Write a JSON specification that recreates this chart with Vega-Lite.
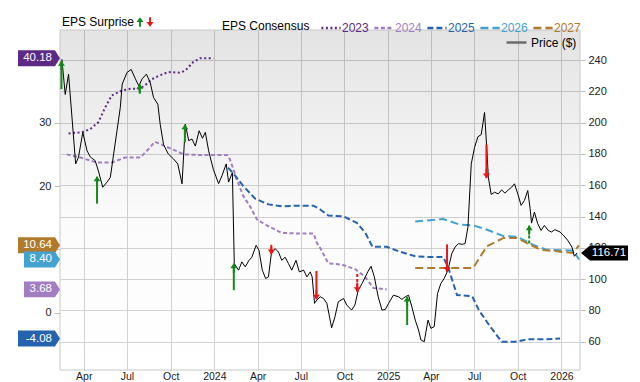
{
  "$schema": "https://vega.github.io/schema/vega-lite/v6.json",
  "width": 520,
  "height": 340,
  "autosize": {"type": "none"},
  "padding": {"left": 60, "top": 30, "right": 60, "bottom": 12},
  "background": "#ffffff",
  "config": {
    "font": "Liberation Sans",
    "view": {"stroke": null},
    "axis": {"title": null, "labelFontSize": 11, "labelColor": "#222222", "domain": false, "tickColor": "#bdbdbd", "gridColor": "#d2d2d2"},
    "axisX": {"tickSize": 0, "labelPadding": 1, "labelFontSize": 10.5, "grid": true, "labelFlush": false, "labelOverlap": false,
      "labelExpr": "utcFormat(datum.value, '%m') == '01' ? utcFormat(datum.value, '%Y') : utcFormat(datum.value, '%b')"}
  },
  "datasets": {
    "frame": [{"date": "2023-02-10", "date2": "2026-02-09", "top": 259.2, "bottom": 41.9}],
    "price": [
      {"date": "2023-02-14", "price": 240.5}, {"date": "2023-02-21", "price": 218}, {"date": "2023-02-28", "price": 231},
      {"date": "2023-03-15", "price": 173.6}, {"date": "2023-03-21", "price": 178}, {"date": "2023-03-30", "price": 193.8},
      {"date": "2023-04-08", "price": 182}, {"date": "2023-04-15", "price": 178}, {"date": "2023-04-25", "price": 175.7},
      {"date": "2023-05-02", "price": 169}, {"date": "2023-05-11", "price": 158.7}, {"date": "2023-05-20", "price": 162},
      {"date": "2023-05-27", "price": 165}, {"date": "2023-06-03", "price": 180}, {"date": "2023-06-10", "price": 194.8},
      {"date": "2023-06-17", "price": 209.7}, {"date": "2023-06-21", "price": 224.6}, {"date": "2023-07-01", "price": 232},
      {"date": "2023-07-10", "price": 234}, {"date": "2023-07-19", "price": 227.8}, {"date": "2023-07-26", "price": 223.5},
      {"date": "2023-08-02", "price": 228}, {"date": "2023-08-11", "price": 231}, {"date": "2023-08-19", "price": 225.6},
      {"date": "2023-08-26", "price": 216}, {"date": "2023-09-04", "price": 211.8}, {"date": "2023-09-09", "price": 199},
      {"date": "2023-09-16", "price": 186}, {"date": "2023-09-26", "price": 180}, {"date": "2023-10-07", "price": 176.8},
      {"date": "2023-10-16", "price": 173.6}, {"date": "2023-10-25", "price": 160.9}, {"date": "2023-11-01", "price": 199},
      {"date": "2023-11-08", "price": 188.5}, {"date": "2023-11-15", "price": 189.5}, {"date": "2023-11-22", "price": 185},
      {"date": "2023-11-30", "price": 194.8}, {"date": "2023-12-07", "price": 190}, {"date": "2023-12-13", "price": 193.8},
      {"date": "2023-12-20", "price": 182}, {"date": "2023-12-30", "price": 170}, {"date": "2024-01-10", "price": 161},
      {"date": "2024-01-17", "price": 166}, {"date": "2024-01-26", "price": 173.6}, {"date": "2024-01-31", "price": 162},
      {"date": "2024-02-08", "price": 168}, {"date": "2024-02-12", "price": 109.9}, {"date": "2024-02-21", "price": 105.7},
      {"date": "2024-02-28", "price": 111}, {"date": "2024-03-06", "price": 107.8}, {"date": "2024-03-14", "price": 112},
      {"date": "2024-03-20", "price": 114}, {"date": "2024-03-29", "price": 121.6}, {"date": "2024-04-04", "price": 118.4},
      {"date": "2024-04-11", "price": 105.7}, {"date": "2024-04-18", "price": 100.4}, {"date": "2024-04-24", "price": 101.4},
      {"date": "2024-04-30", "price": 116.3}, {"date": "2024-05-08", "price": 119.5}, {"date": "2024-05-15", "price": 117.3},
      {"date": "2024-05-22", "price": 112}, {"date": "2024-05-29", "price": 114}, {"date": "2024-06-05", "price": 110},
      {"date": "2024-06-12", "price": 105.7}, {"date": "2024-06-21", "price": 112}, {"date": "2024-06-28", "price": 104.6},
      {"date": "2024-07-07", "price": 105.7}, {"date": "2024-07-14", "price": 101.4}, {"date": "2024-07-21", "price": 104.6},
      {"date": "2024-07-25", "price": 101.4}, {"date": "2024-07-30", "price": 84.5}, {"date": "2024-08-04", "price": 86.6},
      {"date": "2024-08-11", "price": 88.7}, {"date": "2024-08-18", "price": 87.6}, {"date": "2024-08-25", "price": 84.5},
      {"date": "2024-09-04", "price": 68.9}, {"date": "2024-09-11", "price": 75.9}, {"date": "2024-09-18", "price": 85.5},
      {"date": "2024-09-29", "price": 87.6}, {"date": "2024-10-06", "price": 83.4}, {"date": "2024-10-16", "price": 80.2},
      {"date": "2024-10-23", "price": 83.4}, {"date": "2024-10-30", "price": 92.9}, {"date": "2024-11-07", "price": 97.2},
      {"date": "2024-11-14", "price": 101.4}, {"date": "2024-11-19", "price": 104.6}, {"date": "2024-11-26", "price": 108.2},
      {"date": "2024-12-03", "price": 101.4}, {"date": "2024-12-11", "price": 88.7}, {"date": "2024-12-19", "price": 80.2},
      {"date": "2024-12-26", "price": 80.6}, {"date": "2025-01-02", "price": 84.5}, {"date": "2025-01-12", "price": 89.7},
      {"date": "2025-01-23", "price": 88.7}, {"date": "2025-01-30", "price": 87}, {"date": "2025-02-06", "price": 88.7},
      {"date": "2025-02-13", "price": 89.7}, {"date": "2025-02-20", "price": 82.3}, {"date": "2025-02-27", "price": 73.8},
      {"date": "2025-03-06", "price": 67.5}, {"date": "2025-03-11", "price": 61.1}, {"date": "2025-03-18", "price": 60},
      {"date": "2025-03-26", "price": 73.8}, {"date": "2025-04-01", "price": 68.5}, {"date": "2025-04-08", "price": 69.6},
      {"date": "2025-04-15", "price": 90.8}, {"date": "2025-04-22", "price": 97.2}, {"date": "2025-04-29", "price": 100.4},
      {"date": "2025-05-07", "price": 105.7}, {"date": "2025-05-15", "price": 116.3}, {"date": "2025-05-22", "price": 120.5},
      {"date": "2025-05-29", "price": 122.7}, {"date": "2025-06-06", "price": 122.2}, {"date": "2025-06-12", "price": 122.7},
      {"date": "2025-06-18", "price": 133.2}, {"date": "2025-06-25", "price": 173.6}, {"date": "2025-07-02", "price": 184.2},
      {"date": "2025-07-09", "price": 191}, {"date": "2025-07-16", "price": 192.3}, {"date": "2025-07-23", "price": 206.5},
      {"date": "2025-07-28", "price": 182}, {"date": "2025-07-31", "price": 165.1}, {"date": "2025-08-06", "price": 154.1},
      {"date": "2025-08-13", "price": 155.5}, {"date": "2025-08-21", "price": 154.5}, {"date": "2025-08-28", "price": 157},
      {"date": "2025-09-04", "price": 154.9}, {"date": "2025-09-11", "price": 157}, {"date": "2025-09-18", "price": 158.7},
      {"date": "2025-09-24", "price": 160.9}, {"date": "2025-10-01", "price": 154.5}, {"date": "2025-10-08", "price": 147.1},
      {"date": "2025-10-15", "price": 150.3}, {"date": "2025-10-22", "price": 156.6}, {"date": "2025-10-27", "price": 145},
      {"date": "2025-10-30", "price": 135.8}, {"date": "2025-11-05", "price": 142.8}, {"date": "2025-11-12", "price": 135.4},
      {"date": "2025-11-19", "price": 131.1}, {"date": "2025-11-26", "price": 134.3}, {"date": "2025-12-04", "price": 131.1},
      {"date": "2025-12-11", "price": 130.1}, {"date": "2025-12-18", "price": 131.6}, {"date": "2025-12-29", "price": 130.1},
      {"date": "2026-01-05", "price": 128}, {"date": "2026-01-14", "price": 124.8}, {"date": "2026-01-23", "price": 120.5},
      {"date": "2026-01-28", "price": 114.6}, {"date": "2026-02-03", "price": 116.71}
    ],
    "cons": [
      {"year": "2023", "date": "2023-02-28", "eps": 28.3}, {"year": "2023", "date": "2023-03-28", "eps": 28.5},
      {"year": "2023", "date": "2023-04-15", "eps": 29.0}, {"year": "2023", "date": "2023-05-02", "eps": 30.1},
      {"year": "2023", "date": "2023-05-16", "eps": 32.4}, {"year": "2023", "date": "2023-05-30", "eps": 34.3},
      {"year": "2023", "date": "2023-06-21", "eps": 35.1}, {"year": "2023", "date": "2023-07-08", "eps": 35.35},
      {"year": "2023", "date": "2023-07-26", "eps": 35.35}, {"year": "2023", "date": "2023-08-08", "eps": 35.9},
      {"year": "2023", "date": "2023-08-23", "eps": 36.9}, {"year": "2023", "date": "2023-09-09", "eps": 37.5},
      {"year": "2023", "date": "2023-09-26", "eps": 38.0}, {"year": "2023", "date": "2023-10-21", "eps": 37.9},
      {"year": "2023", "date": "2023-11-01", "eps": 38.25}, {"year": "2023", "date": "2023-11-18", "eps": 39.6},
      {"year": "2023", "date": "2023-12-02", "eps": 40.18}, {"year": "2023", "date": "2023-12-30", "eps": 40.18},
      {"year": "2024", "date": "2023-02-24", "eps": 25.0}, {"year": "2024", "date": "2023-03-25", "eps": 24.5},
      {"year": "2024", "date": "2023-04-29", "eps": 23.7}, {"year": "2024", "date": "2023-05-30", "eps": 23.7},
      {"year": "2024", "date": "2023-06-27", "eps": 24.5}, {"year": "2024", "date": "2023-07-29", "eps": 24.5},
      {"year": "2024", "date": "2023-08-15", "eps": 25.8}, {"year": "2024", "date": "2023-08-29", "eps": 27.0},
      {"year": "2024", "date": "2023-09-19", "eps": 26.3}, {"year": "2024", "date": "2023-10-11", "eps": 25.6},
      {"year": "2024", "date": "2023-10-28", "eps": 25.0}, {"year": "2024", "date": "2023-12-02", "eps": 24.9},
      {"year": "2024", "date": "2024-01-28", "eps": 24.9}, {"year": "2024", "date": "2024-02-03", "eps": 24.2},
      {"year": "2024", "date": "2024-02-17", "eps": 21.1}, {"year": "2024", "date": "2024-03-02", "eps": 18.4},
      {"year": "2024", "date": "2024-03-16", "eps": 16.8}, {"year": "2024", "date": "2024-03-31", "eps": 14.7},
      {"year": "2024", "date": "2024-04-24", "eps": 13.65}, {"year": "2024", "date": "2024-05-22", "eps": 12.6},
      {"year": "2024", "date": "2024-06-26", "eps": 12.5}, {"year": "2024", "date": "2024-07-28", "eps": 12.5},
      {"year": "2024", "date": "2024-08-04", "eps": 11.0}, {"year": "2024", "date": "2024-08-11", "eps": 10.2},
      {"year": "2024", "date": "2024-08-28", "eps": 7.8}, {"year": "2024", "date": "2024-09-25", "eps": 7.6},
      {"year": "2024", "date": "2024-10-23", "eps": 6.9}, {"year": "2024", "date": "2024-11-13", "eps": 5.7},
      {"year": "2024", "date": "2024-12-01", "eps": 3.9}, {"year": "2024", "date": "2024-12-29", "eps": 3.68},
      {"year": "2025", "date": "2024-01-30", "eps": 22.9}, {"year": "2025", "date": "2024-02-14", "eps": 21.6},
      {"year": "2025", "date": "2024-03-02", "eps": 20.0}, {"year": "2025", "date": "2024-03-27", "eps": 18.0},
      {"year": "2025", "date": "2024-04-24", "eps": 17.1}, {"year": "2025", "date": "2024-05-22", "eps": 16.8},
      {"year": "2025", "date": "2024-06-19", "eps": 16.9}, {"year": "2025", "date": "2024-07-28", "eps": 16.9},
      {"year": "2025", "date": "2024-08-11", "eps": 16.3}, {"year": "2025", "date": "2024-08-28", "eps": 15.35},
      {"year": "2025", "date": "2024-09-29", "eps": 15.2}, {"year": "2025", "date": "2024-10-27", "eps": 14.2},
      {"year": "2025", "date": "2024-11-14", "eps": 12.6}, {"year": "2025", "date": "2024-11-29", "eps": 10.4},
      {"year": "2025", "date": "2024-12-29", "eps": 10.4}, {"year": "2025", "date": "2025-01-23", "eps": 9.7},
      {"year": "2025", "date": "2025-02-27", "eps": 8.9}, {"year": "2025", "date": "2025-03-27", "eps": 8.8},
      {"year": "2025", "date": "2025-04-27", "eps": 8.8}, {"year": "2025", "date": "2025-05-08", "eps": 7.0},
      {"year": "2025", "date": "2025-05-26", "eps": 2.8}, {"year": "2025", "date": "2025-06-27", "eps": 2.6},
      {"year": "2025", "date": "2025-07-11", "eps": 0.4}, {"year": "2025", "date": "2025-08-04", "eps": -2.2},
      {"year": "2025", "date": "2025-08-28", "eps": -4.6}, {"year": "2025", "date": "2025-09-25", "eps": -4.6},
      {"year": "2025", "date": "2025-10-23", "eps": -4.2}, {"year": "2025", "date": "2025-11-27", "eps": -4.2},
      {"year": "2025", "date": "2025-12-29", "eps": -4.08},
      {"year": "2026", "date": "2025-02-27", "eps": 14.4}, {"year": "2026", "date": "2025-04-27", "eps": 14.8},
      {"year": "2026", "date": "2025-06-01", "eps": 13.9}, {"year": "2026", "date": "2025-06-29", "eps": 13.8},
      {"year": "2026", "date": "2025-07-28", "eps": 13.1}, {"year": "2026", "date": "2025-09-01", "eps": 12.1},
      {"year": "2026", "date": "2025-09-29", "eps": 12.0}, {"year": "2026", "date": "2025-11-03", "eps": 10.7},
      {"year": "2026", "date": "2025-12-01", "eps": 9.95}, {"year": "2026", "date": "2026-01-26", "eps": 9.8},
      {"year": "2026", "date": "2026-02-07", "eps": 8.40},
      {"year": "2027", "date": "2025-02-27", "eps": 7.05}, {"year": "2027", "date": "2025-06-29", "eps": 7.05},
      {"year": "2027", "date": "2025-07-28", "eps": 10.5}, {"year": "2027", "date": "2025-09-01", "eps": 11.8},
      {"year": "2027", "date": "2025-09-29", "eps": 11.8}, {"year": "2027", "date": "2025-11-17", "eps": 9.95},
      {"year": "2027", "date": "2026-01-25", "eps": 9.43}, {"year": "2027", "date": "2026-02-07", "eps": 10.64}
    ],
    "surp": [
      {"date": "2023-02-13", "head": 239.4, "tail": 221.4, "dir": "up", "basis": "final"},
      {"date": "2023-04-29", "head": 165.5, "tail": 148.2, "dir": "up", "basis": "final"},
      {"date": "2023-07-28", "head": 224.6, "tail": 218.6, "dir": "up", "basis": "final"},
      {"date": "2023-10-31", "head": 198.7, "tail": 187.4, "dir": "up", "basis": "final"},
      {"date": "2024-02-11", "head": 109.9, "tail": 92.9, "dir": "up", "basis": "final"},
      {"date": "2024-04-30", "head": 115.9, "tail": 120.5, "dir": "down", "basis": "final"},
      {"date": "2024-08-03", "head": 87.0, "tail": 105.2, "dir": "down", "basis": "final"},
      {"date": "2024-10-28", "head": 91.8, "tail": 104.6, "dir": "down", "basis": "estimate"},
      {"date": "2025-02-10", "head": 88.7, "tail": 70.6, "dir": "up", "basis": "final"},
      {"date": "2025-05-05", "head": 104.6, "tail": 122.2, "dir": "down", "basis": "final"},
      {"date": "2025-07-27", "head": 164.5, "tail": 186.0, "dir": "down", "basis": "final"},
      {"date": "2025-10-25", "head": 134.3, "tail": 122.7, "dir": "up", "basis": "estimate"}
    ]
  },
  "encoding": {
    "x": {
      "field": "date", "type": "temporal",
      "scale": {"type": "utc", "domain": [{"year": 2023, "month": 2, "date": 10, "utc": true}, {"year": 2026, "month": 2, "date": 9, "utc": true}]},
      "axis": {
        "values": [
          {"year": 2023, "month": 4, "date": 1, "utc": true}, {"year": 2023, "month": 7, "date": 1, "utc": true},
          {"year": 2023, "month": 10, "date": 1, "utc": true}, {"year": 2024, "month": 1, "date": 1, "utc": true},
          {"year": 2024, "month": 4, "date": 1, "utc": true}, {"year": 2024, "month": 7, "date": 1, "utc": true},
          {"year": 2024, "month": 10, "date": 1, "utc": true}, {"year": 2025, "month": 1, "date": 1, "utc": true},
          {"year": 2025, "month": 4, "date": 1, "utc": true}, {"year": 2025, "month": 7, "date": 1, "utc": true},
          {"year": 2025, "month": 10, "date": 1, "utc": true}, {"year": 2026, "month": 1, "date": 1, "utc": true}
        ]
      }
    }
  },
  "layer": [
    {
      "data": {"name": "frame"},
      "mark": {"type": "rect", "stroke": "#c8c8c8", "strokeWidth": 1,
        "fill": {"gradient": "linear", "x1": 0, "y1": 0, "x2": 0, "y2": 1,
          "stops": [{"offset": 0, "color": "rgba(0,0,0,0.11)"}, {"offset": 0.55, "color": "rgba(0,0,0,0.015)"}, {"offset": 1, "color": "rgba(0,0,0,0)"}]}},
      "encoding": {
        "x2": {"field": "date2"},
        "y": {"field": "top", "type": "quantitative", "scale": {"domain": [41.9, 259.2], "nice": false, "zero": false}, "axis": null},
        "y2": {"field": "bottom"}
      }
    },
    {
      "data": {"name": "cons"},
      "mark": {"type": "line", "strokeWidth": 2},
      "encoding": {
        "y": {
          "field": "eps", "type": "quantitative",
          "scale": {"domain": [-9.05, 44.64], "nice": false, "zero": false},
          "axis": {"orient": "left", "values": [0, 10, 20, 30, 40], "grid": false, "tickSize": 6, "labelPadding": 3,
            "labelExpr": "datum.value == 10 || datum.value == 40 ? '' : datum.label"}
        },
        "color": {
          "field": "year", "type": "nominal",
          "scale": {"domain": ["2023", "2024", "2025", "2026", "2027"], "range": ["#5c2a85", "#a37dc2", "#2563ae", "#43a2d0", "#b07a2c"]},
          "legend": {
            "orient": "none", "legendX": 162, "legendY": -13, "direction": "horizontal",
            "title": "EPS Consensus", "titleOrient": "left", "titleFontSize": 12, "titleFontWeight": "normal", "titleColor": "#000000",
            "titlePadding": 10, "labelFontSize": 12, "labelOffset": 0, "columnPadding": 0,
            "symbolType": "stroke", "symbolSize": 370, "symbolStrokeWidth": 2.5,
            "encode": {"labels": {"update": {"fill": {"scale": "color", "field": "value"}}}}
          }
        },
        "strokeDash": {
          "field": "year", "type": "nominal",
          "scale": {"domain": ["2023", "2024", "2025", "2026", "2027"], "range": [[2, 2.5], [4, 2.5], [6, 3], [8, 4], [8, 4]]},
          "legend": {
            "orient": "none", "legendX": 162, "legendY": -13, "direction": "horizontal",
            "title": "EPS Consensus", "titleOrient": "left", "titleFontSize": 12, "titleFontWeight": "normal", "titleColor": "#000000",
            "titlePadding": 10, "labelFontSize": 12, "labelOffset": 0, "columnPadding": 0,
            "symbolType": "stroke", "symbolSize": 370, "symbolStrokeWidth": 2.5,
            "encode": {"labels": {"update": {"fill": {"scale": "color", "field": "value"}}}}
          }
        }
      }
    },
    {
      "data": {"name": "price"},
      "mark": {"type": "line", "color": "#000000", "strokeWidth": 1},
      "encoding": {
        "y": {
          "field": "price", "type": "quantitative",
          "scale": {"domain": [41.9, 259.2], "nice": false, "zero": false},
          "axis": {"orient": "right", "values": [60, 80, 100, 120, 140, 160, 180, 200, 220, 240], "grid": true, "tickSize": 5, "labelPadding": 3}
        },
        "opacity": {
          "datum": "Price ($)", "type": "nominal", "scale": {"range": [1, 1]},
          "legend": {
            "orient": "none", "legendX": 445, "legendY": 1, "title": null, "labelFontSize": 12, "labelOffset": 3, "labelColor": "#000000",
            "symbolType": "stroke", "symbolSize": 400, "symbolStrokeWidth": 2.5, "symbolStrokeColor": "#6b6b6b",
            "encode": {"symbols": {"update": {"stroke": {"value": "#6b6b6b"}, "strokeWidth": {"value": 2.5}}}}
          }
        }
      }
    },
    {
      "data": {"name": "surp"},
      "transform": [{"filter": "datum.dir == 'up'"}],
      "mark": {"type": "point", "filled": true, "opacity": 1, "strokeWidth": 0, "size": 88, "yOffset": 4.7},
      "encoding": {
        "y": {"field": "head", "type": "quantitative", "scale": {"domain": [41.9, 259.2], "nice": false, "zero": false}, "axis": null},
        "fill": {
          "field": "dir", "type": "nominal", "scale": {"domain": ["up", "down"], "range": ["#12891a", "#ee1414"]},
          "legend": {"orient": "none", "legendX": 2, "legendY": -13, "direction": "horizontal", "title": "EPS Surprise", "titleOrient": "left",
            "titleFontSize": 12, "titleFontWeight": "normal", "titleColor": "#000000", "titlePadding": 0, "labelExpr": "''", "labelOffset": 0,
            "columnPadding": -3, "symbolSize": 88, "symbolStrokeWidth": 0}
        },
        "shape": {
          "field": "dir", "type": "nominal",
          "scale": {"domain": ["up", "down"], "range": ["M0,-1L0.75,0L0.2,0L0.2,1L-0.2,1L-0.2,0L-0.75,0Z", "M0,1L0.75,0L0.2,0L0.2,-1L-0.2,-1L-0.2,0L-0.75,0Z"]},
          "legend": {"orient": "none", "legendX": 2, "legendY": -13, "direction": "horizontal", "title": "EPS Surprise", "titleOrient": "left",
            "titleFontSize": 12, "titleFontWeight": "normal", "titleColor": "#000000", "titlePadding": 0, "labelExpr": "''", "labelOffset": 0,
            "columnPadding": -3, "symbolSize": 88, "symbolStrokeWidth": 0}
        }
      }
    },
    {
      "data": {"name": "surp"},
      "transform": [{"filter": "datum.dir == 'down'"}],
      "mark": {"type": "point", "filled": true, "opacity": 1, "strokeWidth": 0, "size": 88, "yOffset": -4.7},
      "encoding": {
        "y": {"field": "head", "type": "quantitative", "scale": {"domain": [41.9, 259.2], "nice": false, "zero": false}, "axis": null},
        "fill": {
          "field": "dir", "type": "nominal",
          "legend": {"orient": "none", "legendX": 2, "legendY": -13, "direction": "horizontal", "title": "EPS Surprise", "titleOrient": "left",
            "titleFontSize": 12, "titleFontWeight": "normal", "titleColor": "#000000", "titlePadding": 0, "labelExpr": "''", "labelOffset": 0,
            "columnPadding": -3, "symbolSize": 88, "symbolStrokeWidth": 0}
        },
        "shape": {
          "field": "dir", "type": "nominal",
          "legend": {"orient": "none", "legendX": 2, "legendY": -13, "direction": "horizontal", "title": "EPS Surprise", "titleOrient": "left",
            "titleFontSize": 12, "titleFontWeight": "normal", "titleColor": "#000000", "titlePadding": 0, "labelExpr": "''", "labelOffset": 0,
            "columnPadding": -3, "symbolSize": 88, "symbolStrokeWidth": 0}
        }
      }
    },
    {
      "data": {"name": "surp"},
      "transform": [{"filter": "datum.basis == 'final'"}],
      "mark": {"type": "rule", "strokeWidth": 2},
      "encoding": {
        "y": {"field": "head", "type": "quantitative", "scale": {"domain": [41.9, 259.2], "nice": false, "zero": false}, "axis": null},
        "y2": {"field": "tail"},
        "stroke": {"condition": {"test": "datum.dir == 'up'", "value": "#12891a"}, "value": "#ee1414"}
      }
    },
    {
      "data": {"name": "surp"},
      "transform": [{"filter": "datum.basis == 'estimate'"}],
      "mark": {"type": "rule", "strokeWidth": 2, "strokeDash": [3, 2]},
      "encoding": {
        "y": {"field": "head", "type": "quantitative", "scale": {"domain": [41.9, 259.2], "nice": false, "zero": false}, "axis": null},
        "y2": {"field": "tail"},
        "stroke": {"condition": {"test": "datum.dir == 'up'", "value": "#12891a"}, "value": "#ee1414"}
      }
    },
    {
      "data": {"name": "cons"},
      "transform": [
        {"joinaggregate": [{"op": "max", "field": "date", "as": "last"}], "groupby": ["year"]},
        {"filter": "time(datum.date) == time(datum.last)"},
        {"filter": "datum.eps >= 10 || datum.eps < 0"}
      ],
      "mark": {"type": "point", "filled": true, "opacity": 1, "strokeWidth": 0, "size": 1764, "xOffset": -21,
        "shape": "M-1,-0.38L0.76,-0.38L1,0L0.76,0.38L-1,0.38Z"},
      "encoding": {
        "x": {"datum": {"year": 2023, "month": 2, "date": 10, "utc": true}, "type": "temporal"},
        "y": {"field": "eps", "type": "quantitative", "scale": {"domain": [-9.05, 44.64], "nice": false, "zero": false}, "axis": null},
        "color": {"field": "year", "type": "nominal", "legend": null}
      }
    },
    {
      "data": {"name": "cons"},
      "transform": [
        {"joinaggregate": [{"op": "max", "field": "date", "as": "last"}], "groupby": ["year"]},
        {"filter": "time(datum.date) == time(datum.last)"},
        {"filter": "datum.eps < 10 && datum.eps >= 0"}
      ],
      "mark": {"type": "point", "filled": true, "opacity": 1, "strokeWidth": 0, "size": 1296, "xOffset": -18,
        "shape": "M-1,-0.44L0.72,-0.44L1,0L0.72,0.44L-1,0.44Z"},
      "encoding": {
        "x": {"datum": {"year": 2023, "month": 2, "date": 10, "utc": true}, "type": "temporal"},
        "y": {"field": "eps", "type": "quantitative", "scale": {"domain": [-9.05, 44.64], "nice": false, "zero": false}, "axis": null},
        "color": {"field": "year", "type": "nominal", "legend": null}
      }
    },
    {
      "data": {"name": "cons"},
      "transform": [
        {"joinaggregate": [{"op": "max", "field": "date", "as": "last"}], "groupby": ["year"]},
        {"filter": "time(datum.date) == time(datum.last)"},
        {"calculate": "(datum.eps < 0 ? '-' : '') + format(abs(datum.eps), '.2f')", "as": "lbl"}
      ],
      "mark": {"type": "text", "align": "right", "baseline": "middle", "xOffset": -8, "fontSize": 11.5, "color": "#ffffff"},
      "encoding": {
        "x": {"datum": {"year": 2023, "month": 2, "date": 10, "utc": true}, "type": "temporal"},
        "y": {"field": "eps", "type": "quantitative", "scale": {"domain": [-9.05, 44.64], "nice": false, "zero": false}, "axis": null},
        "text": {"field": "lbl"}
      }
    },
    {
      "data": {"name": "price"},
      "transform": [
        {"joinaggregate": [{"op": "max", "field": "date", "as": "last"}]},
        {"filter": "time(datum.date) == time(datum.last)"}
      ],
      "mark": {"type": "point", "filled": true, "opacity": 1, "strokeWidth": 0, "color": "#000000", "size": 2209, "xOffset": 24.5,
        "shape": "M-1,0L-0.62,-0.32L1,-0.32L1,0.32L-0.62,0.32Z"},
      "encoding": {
        "x": {"datum": {"year": 2026, "month": 2, "date": 9, "utc": true}, "type": "temporal"},
        "y": {"field": "price", "type": "quantitative", "scale": {"domain": [41.9, 259.2], "nice": false, "zero": false}, "axis": null}
      }
    },
    {
      "data": {"name": "price"},
      "transform": [
        {"joinaggregate": [{"op": "max", "field": "date", "as": "last"}]},
        {"filter": "time(datum.date) == time(datum.last)"}
      ],
      "mark": {"type": "text", "align": "center", "baseline": "middle", "xOffset": 29, "fontSize": 11.5, "color": "#ffffff"},
      "encoding": {
        "x": {"datum": {"year": 2026, "month": 2, "date": 9, "utc": true}, "type": "temporal"},
        "y": {"field": "price", "type": "quantitative", "scale": {"domain": [41.9, 259.2], "nice": false, "zero": false}, "axis": null},
        "text": {"field": "price", "type": "quantitative", "format": ".2f"}
      }
    }
  ],
  "resolve": {"scale": {"y": "independent"}}
}
